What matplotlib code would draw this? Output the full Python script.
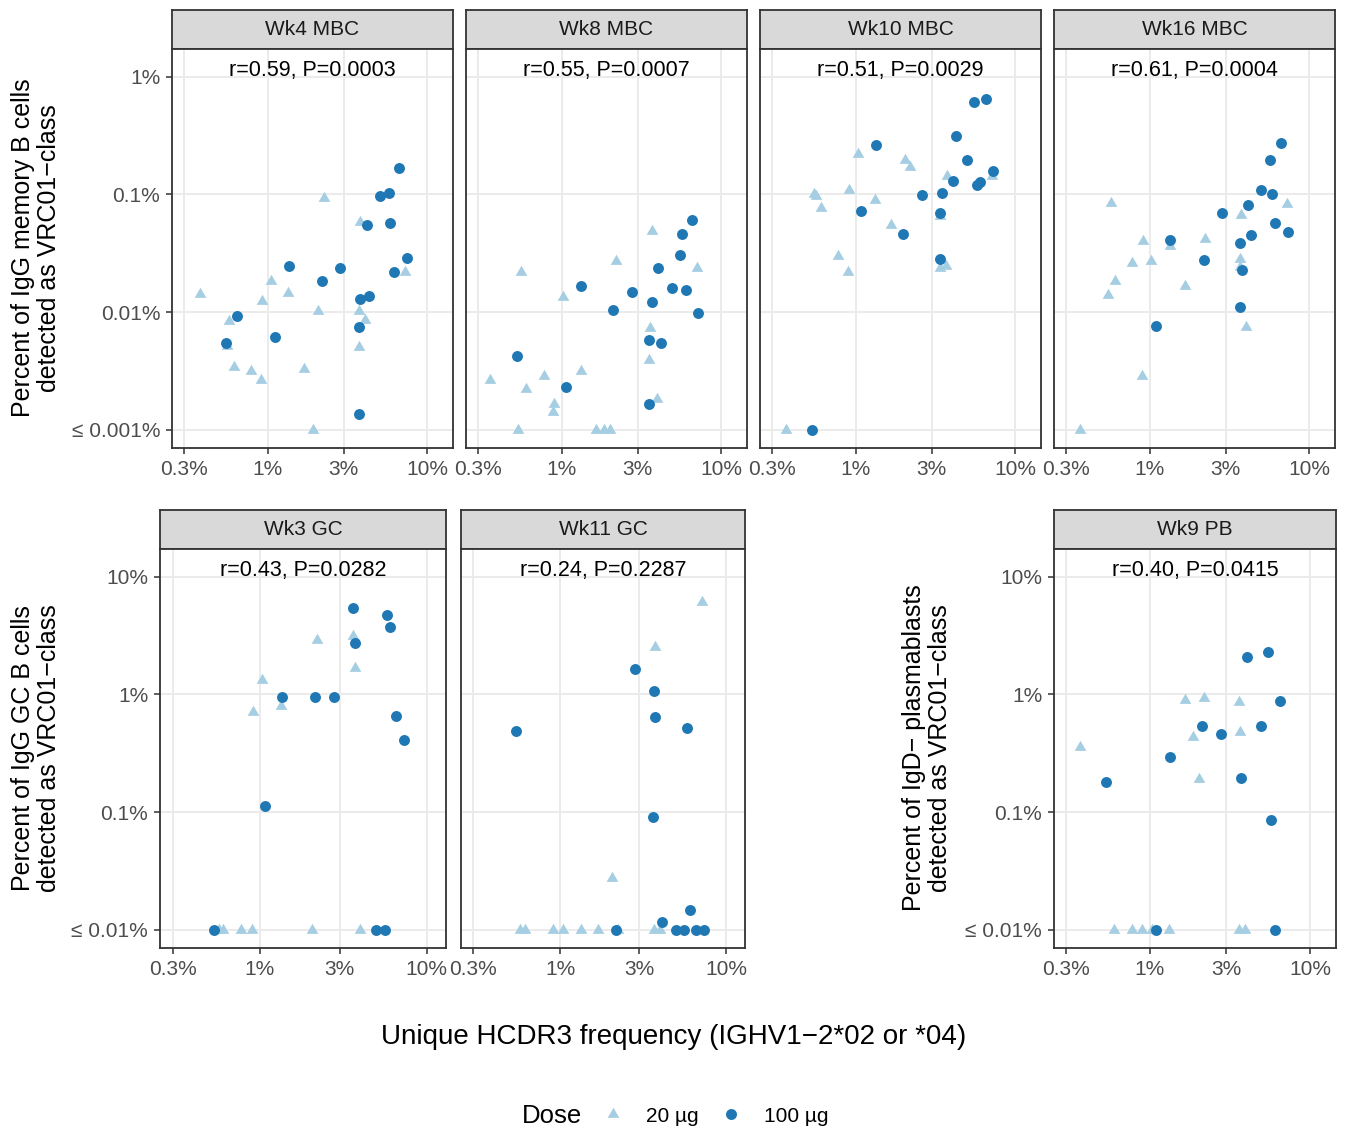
import numpy as np
import matplotlib
matplotlib.use("Agg")
import matplotlib.pyplot as plt
from matplotlib.lines import Line2D

plt.rcParams['font.family'] = ['Liberation Sans', 'DejaVu Sans']

# ---- data (percent values, floor values sit on the "<=" line) ----
wk4_x_100 = [6.68, 5.05, 5.73, 4.17, 5.87, 7.43, 6.15, 1.36, 2.85, 2.19, 3.80, 4.33, 0.641, 0.547, 1.11, 3.71, 3.71]
wk4_y_100 = [0.166, 0.096, 0.102, 0.0544, 0.0569, 0.0289, 0.0221, 0.0244, 0.0239, 0.0183, 0.0129, 0.0138, 0.00919, 0.00546, 0.00618, 0.00741, 0.00135]
wk4_x_20 = [0.376, 0.577, 0.561, 0.617, 0.792, 0.907, 0.920, 1.05, 1.35, 1.70, 2.06, 2.25, 1.92, 3.77, 3.71, 4.07, 3.71, 7.29]
wk4_y_20 = [0.0142, 0.00844, 0.00511, 0.00341, 0.00314, 0.00267, 0.0123, 0.0184, 0.0145, 0.00328, 0.0103, 0.094, 0.001, 0.058, 0.0103, 0.0085, 0.00508, 0.0218]

wk8_x_100 = [6.53, 5.70, 5.48, 3.99, 1.33, 2.74, 4.89, 5.96, 3.66, 2.11, 7.18, 3.54, 4.19, 0.524, 1.06, 3.54]
wk8_y_100 = [0.0608, 0.0462, 0.0303, 0.0238, 0.0168, 0.0147, 0.0159, 0.0155, 0.0122, 0.0105, 0.0098, 0.00582, 0.00546, 0.00426, 0.00231, 0.00164]
wk8_x_20 = [3.66, 2.18, 7.01, 0.561, 1.02, 3.58, 3.54, 1.32, 0.771, 0.359, 0.597, 0.895, 0.882, 3.94, 0.537, 1.64, 1.84, 2.01]
wk8_y_20 = [0.0484, 0.0273, 0.0239, 0.0221, 0.0134, 0.00727, 0.00394, 0.00318, 0.00288, 0.00267, 0.00222, 0.00164, 0.00142, 0.00183, 0.001, 0.001, 0.001, 0.001]

wk10_x_100 = [6.59, 5.52, 4.23, 1.35, 4.96, 7.29, 4.09, 5.99, 5.73, 2.59, 3.46, 3.36, 1.08, 1.99, 3.36, 0.534]
wk10_y_100 = [0.642, 0.610, 0.314, 0.265, 0.196, 0.158, 0.131, 0.128, 0.119, 0.0978, 0.1037, 0.0692, 0.0729, 0.0462, 0.0282, 0.001]
wk10_x_20 = [1.04, 2.03, 2.20, 3.71, 7.15, 0.547, 0.563, 0.906, 1.32, 0.605, 1.67, 3.36, 0.780, 0.892, 3.36, 3.70, 0.365]
wk10_y_20 = [0.219, 0.194, 0.170, 0.144, 0.144, 0.101, 0.097, 0.109, 0.090, 0.0763, 0.0545, 0.066, 0.030, 0.0217, 0.0236, 0.0247, 0.001]

wk16_x_100 = [6.62, 5.65, 5.01, 5.80, 4.11, 2.84, 6.10, 7.35, 4.30, 3.66, 1.35, 2.18, 3.79, 3.66, 1.10]
wk16_y_100 = [0.272, 0.194, 0.109, 0.101, 0.0814, 0.0692, 0.0569, 0.0477, 0.0451, 0.0385, 0.0411, 0.0278, 0.0226, 0.0110, 0.0076]
wk16_x_20 = [0.574, 7.21, 3.75, 0.908, 2.23, 1.34, 0.781, 1.02, 3.68, 3.68, 0.605, 1.67, 0.552, 4.01, 0.892, 0.369]
wk16_y_20 = [0.084, 0.083, 0.0665, 0.0398, 0.0417, 0.0361, 0.0261, 0.0269, 0.0282, 0.0241, 0.0185, 0.0166, 0.0140, 0.00745, 0.00284, 0.001]

wk3gc_x_100 = [3.62, 5.75, 6.02, 3.74, 1.35, 2.15, 2.80, 6.55, 7.28, 1.08, 0.534, 4.98, 5.62]
wk3gc_y_100 = [5.46, 4.70, 3.74, 2.72, 0.96, 0.953, 0.953, 0.661, 0.414, 0.113, 0.01, 0.01, 0.01]
wk3gc_x_20 = [2.21, 3.59, 3.74, 1.03, 1.33, 0.908, 0.568, 0.600, 0.773, 0.895, 2.04, 3.97]
wk3gc_y_20 = [2.90, 3.14, 1.67, 1.33, 0.80, 0.706, 0.01, 0.01, 0.01, 0.01, 0.01, 0.01]

wk11gc_x_100 = [2.82, 3.66, 3.74, 5.80, 0.541, 3.64, 6.10, 4.10, 2.17, 4.98, 5.61, 6.62, 7.36]
wk11gc_y_100 = [1.66, 1.08, 0.649, 0.516, 0.490, 0.0918, 0.0148, 0.01165, 0.01, 0.01, 0.01, 0.01, 0.01]
wk11gc_x_20 = [7.13, 3.74, 2.05, 0.571, 0.612, 0.906, 1.04, 1.34, 1.70, 2.24, 3.66, 3.99]
wk11gc_y_20 = [6.14, 2.51, 0.0275, 0.01, 0.01, 0.01, 0.01, 0.01, 0.01, 0.01, 0.01, 0.01]

wk9pb_x_100 = [5.43, 4.04, 6.51, 2.12, 4.90, 2.77, 1.33, 3.68, 0.531, 5.71, 1.09, 5.98]
wk9pb_y_100 = [2.31, 2.08, 0.881, 0.541, 0.541, 0.459, 0.297, 0.194, 0.179, 0.0855, 0.01, 0.01]
wk9pb_x_20 = [1.66, 2.18, 3.58, 3.66, 1.86, 2.01, 0.368, 0.601, 0.769, 0.897, 1.03, 1.31, 3.59, 3.91]
wk9pb_y_20 = [0.898, 0.927, 0.869, 0.484, 0.431, 0.191, 0.361, 0.01, 0.01, 0.01, 0.01, 0.01, 0.01, 0.01]

x_ticks = [0.3, 1, 3, 10]
x_ticklabels = ['0.3%', '1%', '3%', '10%']
mbc_yticks = [0.001, 0.01, 0.1, 1]
mbc_yticklabels = ['\u2264 0.001%', '0.01%', '0.1%', '1%']
gc_yticks = [0.01, 0.1, 1, 10]
gc_yticklabels = ['\u2264 0.01%', '0.1%', '1%', '10%']

col_20 = '#A6CEE3'
col_100 = '#1F78B4'
border = '#333333'

# equilateral triangle like R pch 17
tri = [(0, 1.155), (-1, -0.577), (1, -0.577), (0, 1.155)]

W, H = 1348, 1130
fig = plt.figure(figsize=(W / 100, H / 100), dpi=100)


def px_axes(x0, y0, x1, y1):
    return fig.add_axes([x0 / W, 1 - y1 / H, (x1 - x0) / W, (y1 - y0) / H])


def panel(x0, x1, top, bottom, title, stat, xs, ys, yticks, yticklabels,
          ylim, xlim, show_y):
    strip = px_axes(x0, top - 39, x1, top)
    strip.set_facecolor('#D9D9D9')
    strip.set_xticks([])
    strip.set_yticks([])
    for s in strip.spines.values():
        s.set_color(border)
        s.set_linewidth(1.3)
    strip.text(0.5, 0.5, title, ha='center', va='center', fontsize=15,
               color='#1A1A1A', transform=strip.transAxes)

    ax = px_axes(x0, top, x1, bottom)
    ax.set_xscale('log')
    ax.set_yscale('log')
    ax.set_xlim(*xlim)
    ax.set_ylim(*ylim)
    ax.set_xticks(x_ticks)
    ax.set_xticklabels(x_ticklabels)
    ax.set_yticks(yticks)
    ax.set_yticklabels(yticklabels)
    ax.minorticks_off()
    ax.grid(True, color='#EBEBEB', linewidth=1.4)
    ax.set_axisbelow(True)
    for s in ax.spines.values():
        s.set_color(border)
        s.set_linewidth(1.3)
    ax.tick_params(axis='both', length=4.5, width=1.1, color=border,
                   labelcolor='#4D4D4D', labelsize=15, pad=4)
    if not show_y:
        ax.tick_params(axis='y', left=False, labelleft=False)

    x20, y20, x100, y100 = xs[0], ys[0], xs[1], ys[1]
    ax.scatter(x20, y20, marker=tri, s=95, color=col_20, linewidths=0, zorder=3)
    ax.scatter(x100, y100, marker='o', s=62, color=col_100, linewidths=0, zorder=4)
    ax.text(0.5, 0.946, stat, ha='center', va='center', fontsize=15.5,
            color='black', transform=ax.transAxes)
    return ax


top_xlim = (10 ** -0.598, 10 ** 1.16)
gc_xlim = (10 ** -0.598, 10 ** 1.115)
mbc_ylim = (10 ** -3.155, 10 ** 0.235)
gc_ylim = (10 ** -2.153, 10 ** 1.235)

panel(172, 453, 49, 448, 'Wk4 MBC', 'r=0.59, P=0.0003',
      (wk4_x_20, wk4_x_100), (wk4_y_20, wk4_y_100),
      mbc_yticks, mbc_yticklabels, mbc_ylim, top_xlim, True)
panel(466, 747, 49, 448, 'Wk8 MBC', 'r=0.55, P=0.0007',
      (wk8_x_20, wk8_x_100), (wk8_y_20, wk8_y_100),
      mbc_yticks, mbc_yticklabels, mbc_ylim, top_xlim, False)
panel(760, 1041, 49, 448, 'Wk10 MBC', 'r=0.51, P=0.0029',
      (wk10_x_20, wk10_x_100), (wk10_y_20, wk10_y_100),
      mbc_yticks, mbc_yticklabels, mbc_ylim, top_xlim, False)
panel(1054, 1335, 49, 448, 'Wk16 MBC', 'r=0.61, P=0.0004',
      (wk16_x_20, wk16_x_100), (wk16_y_20, wk16_y_100),
      mbc_yticks, mbc_yticklabels, mbc_ylim, top_xlim, False)

panel(160, 446, 549, 948, 'Wk3 GC', 'r=0.43, P=0.0282',
      (wk3gc_x_20, wk3gc_x_100), (wk3gc_y_20, wk3gc_y_100),
      gc_yticks, gc_yticklabels, gc_ylim, gc_xlim, True)
panel(461, 745, 549, 948, 'Wk11 GC', 'r=0.24, P=0.2287',
      (wk11gc_x_20, wk11gc_x_100), (wk11gc_y_20, wk11gc_y_100),
      gc_yticks, gc_yticklabels, gc_ylim, gc_xlim, False)
panel(1054, 1336, 549, 948, 'Wk9 PB', 'r=0.40, P=0.0415',
      (wk9pb_x_20, wk9pb_x_100), (wk9pb_y_20, wk9pb_y_100),
      gc_yticks, gc_yticklabels, gc_ylim, top_xlim, True)

# axis titles
fig.text(36 / W, 1 - 248 / H, 'Percent of IgG memory B cells\ndetected as VRC01\u2212class',
         rotation=90, ha='center', va='center', fontsize=18, linespacing=1.1)
fig.text(36 / W, 1 - 748 / H, 'Percent of IgG GC B cells\ndetected as VRC01\u2212class',
         rotation=90, ha='center', va='center', fontsize=18, linespacing=1.1)
fig.text(927 / W, 1 - 748 / H, 'Percent of IgD\u2212 plasmablasts\ndetected as VRC01\u2212class',
         rotation=90, ha='center', va='center', fontsize=18, linespacing=1.1)
fig.text(674 / W, 1 - 1037 / H, 'Unique HCDR3 frequency (IGHV1\u22122*02 or *04)',
         ha='center', va='center', fontsize=20)

# legend
fig.text(522 / W, 1 - 1116 / H, 'Dose', ha='left', va='center', fontsize=18.5)
handles = [
    Line2D([], [], linestyle='none', marker=tri, markersize=9.7, color=col_20, markeredgewidth=0),
    Line2D([], [], linestyle='none', marker='o', markersize=7.9, color=col_100, markeredgewidth=0),
]
fig.legend(handles, ['20 \u00b5g', '100 \u00b5g'], loc='center left',
           bbox_to_anchor=(600 / W, 1 - 1116 / H), ncol=2, frameon=False,
           fontsize=15, handlelength=1.2, handletextpad=1.0, columnspacing=0.95,
           borderaxespad=0, borderpad=0)

fig.savefig('out.png', dpi=100)
